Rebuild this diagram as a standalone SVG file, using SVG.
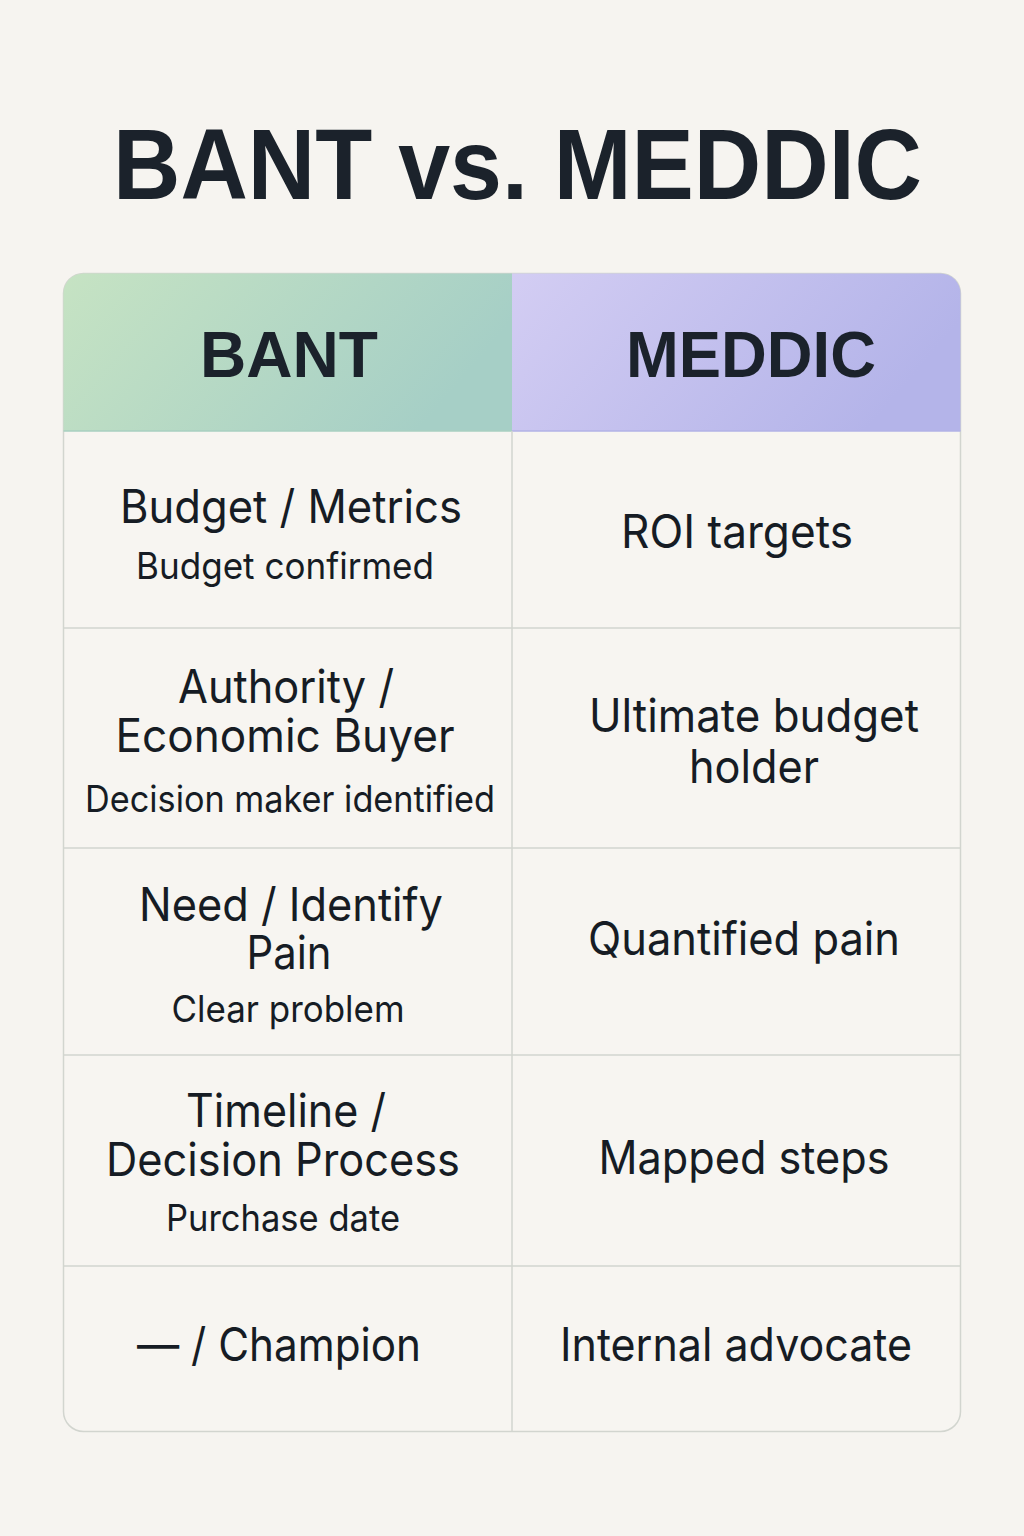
<svg xmlns="http://www.w3.org/2000/svg" width="1024" height="1536" viewBox="0 0 1024 1536">
  <defs>
    <linearGradient id="gGreen" x1="0" y1="0" x2="1" y2="0.3">
      <stop offset="0" stop-color="#c6e3c3"/>
      <stop offset="1" stop-color="#a6cfc6"/>
    </linearGradient>
    <linearGradient id="gPurple" x1="0" y1="0" x2="1" y2="0.3">
      <stop offset="0" stop-color="#d3cdf3"/>
      <stop offset="1" stop-color="#b4b4e9"/>
    </linearGradient>
    <style>
      .title { font-family: "Liberation Sans", Arial, sans-serif; font-weight: 700; fill: #1b222b; }
      .head { font-family: "Liberation Sans", Arial, sans-serif; font-weight: 700; fill: #1b222b; font-size: 64px; }
      .main { font-family: Inter, "Liberation Sans", sans-serif; font-size: 46px; fill: #161c24; text-anchor: middle; }
      .sub { font-family: Inter, "Liberation Sans", sans-serif; font-size: 37px; fill: #161c24; text-anchor: middle; }
      .grid { stroke: #d2d5cf; stroke-width: 1.5; fill: none; }
    </style>
  </defs>

  <rect x="0" y="0" width="1024" height="1536" fill="#f6f4f0"/>

  <g id="title">
    <text class="title" x="113" y="199" font-size="100" textLength="809" lengthAdjust="spacingAndGlyphs">BANT vs. MEDDIC</text>
  </g>

  <g id="table">
    <rect x="63.5" y="273.5" width="897" height="1158" rx="20" ry="20" fill="#f7f5f1" stroke="#d2d5cf" stroke-width="1.5"/>
    <path d="M63.5,431 V293.5 A20,20 0 0 1 83.5,273.5 H512 V431 Z" fill="url(#gGreen)"/>
    <path d="M512,273.5 H940.5 A20,20 0 0 1 960.5,293.5 V431 H512 Z" fill="url(#gPurple)"/>
    <line x1="63.5" y1="431" x2="512" y2="431" stroke="#a9cfc0" stroke-width="1.5"/>
    <line x1="512" y1="431" x2="960.5" y2="431" stroke="#b2b2e6" stroke-width="1.5"/>
  </g>

  <g id="connectors">
    <line class="grid" x1="512" y1="431" x2="512" y2="1431"/>
    <line class="grid" x1="63.5" y1="628" x2="960.5" y2="628"/>
    <line class="grid" x1="63.5" y1="848" x2="960.5" y2="848"/>
    <line class="grid" x1="63.5" y1="1055" x2="960.5" y2="1055"/>
    <line class="grid" x1="63.5" y1="1266" x2="960.5" y2="1266"/>
  </g>

  <g id="header-bant">
    <text class="head" x="200" y="377" textLength="178" lengthAdjust="spacingAndGlyphs">BANT</text>
  </g>
  <g id="header-meddic">
    <text class="head" x="626" y="377" textLength="250" lengthAdjust="spacingAndGlyphs">MEDDIC</text>
  </g>

  <g id="row1-bant">
    <text class="main" x="291" y="523" textLength="342" lengthAdjust="spacingAndGlyphs">Budget / Metrics</text>
    <text class="sub" x="285" y="579" textLength="298" lengthAdjust="spacingAndGlyphs">Budget confirmed</text>
  </g>
  <g id="row1-meddic">
    <text class="main" x="737" y="548" textLength="232" lengthAdjust="spacingAndGlyphs">ROI targets</text>
  </g>

  <g id="row2-bant">
    <text class="main" x="286" y="703" textLength="216" lengthAdjust="spacingAndGlyphs">Authority /</text>
    <text class="main" x="285" y="752" textLength="339" lengthAdjust="spacingAndGlyphs">Economic Buyer</text>
    <text class="sub" x="290" y="812" textLength="410" lengthAdjust="spacingAndGlyphs">Decision maker identified</text>
  </g>
  <g id="row2-meddic">
    <text class="main" x="754" y="732" textLength="330" lengthAdjust="spacingAndGlyphs">Ultimate budget</text>
    <text class="main" x="754" y="783" textLength="130" lengthAdjust="spacingAndGlyphs">holder</text>
  </g>

  <g id="row3-bant">
    <text class="main" x="291" y="921" textLength="304" lengthAdjust="spacingAndGlyphs">Need / Identify</text>
    <text class="main" x="289" y="969" textLength="85" lengthAdjust="spacingAndGlyphs">Pain</text>
    <text class="sub" x="288" y="1022" textLength="233" lengthAdjust="spacingAndGlyphs">Clear problem</text>
  </g>
  <g id="row3-meddic">
    <text class="main" x="744" y="955" textLength="312" lengthAdjust="spacingAndGlyphs">Quantified pain</text>
  </g>

  <g id="row4-bant">
    <text class="main" x="286" y="1127" textLength="200" lengthAdjust="spacingAndGlyphs">Timeline /</text>
    <text class="main" x="283" y="1176" textLength="354" lengthAdjust="spacingAndGlyphs">Decision Process</text>
    <text class="sub" x="283" y="1231" textLength="234" lengthAdjust="spacingAndGlyphs">Purchase date</text>
  </g>
  <g id="row4-meddic">
    <text class="main" x="744" y="1174" textLength="291" lengthAdjust="spacingAndGlyphs">Mapped steps</text>
  </g>

  <g id="row5-bant">
    <text class="main" x="279" y="1361" textLength="284" lengthAdjust="spacingAndGlyphs">— / Champion</text>
  </g>
  <g id="row5-meddic">
    <text class="main" x="736" y="1361" textLength="352" lengthAdjust="spacingAndGlyphs">Internal advocate</text>
  </g>
</svg>
